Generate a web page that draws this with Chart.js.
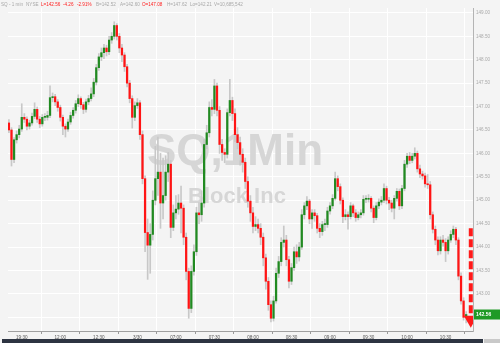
<!DOCTYPE html>
<html>
<head>
<meta charset="utf-8">
<script src="https://cdn.jsdelivr.net/npm/chart.js"></script>
<style>
  html, body { margin: 0; padding: 0; background: #f4f4f4; }
  #wrap { position: relative; width: 500px; height: 343px; overflow: hidden; }
  #scroll { position: absolute; left: 2px; top: 339px; width: 481px; height: 4px; background: #2d3441; }
  #scrollEnd { position: absolute; left: 484px; top: 339px; width: 16px; height: 4px; background: #c9c9c9; }
</style>
</head>
<body>
<div id="wrap">
  <canvas id="chart" width="500" height="343"></canvas>
  <div id="scroll"></div><div id="scrollEnd"></div>
</div>
<script>
// SQ 1 min bars (one entry per bar)
const opens = [
  146.65,146.50,145.87,146.29,146.40,146.52,146.77,146.73,146.58,146.65,
  146.79,146.94,146.73,146.63,146.77,146.77,146.81,147.19,147.21,147.10,
  146.98,146.77,146.58,146.52,146.67,146.81,146.92,147.06,147.17,147.04,
  146.94,147.10,147.17,147.27,147.52,147.83,148.06,148.15,148.25,148.17,
  148.42,148.50,148.73,148.50,148.25,148.10,147.85,147.50,147.17,146.77,
  147.02,147.08,146.40,145.46,144.31,144.04,144.27,145.00,145.46,145.60,
  144.94,145.10,145.60,145.77,144.42,144.73,144.81,144.94,144.83,144.21,
  143.48,142.69,143.48,143.90,144.73,144.69,144.94,146.19,146.44,146.98,
  146.94,147.44,146.92,146.19,146.02,145.98,146.87,147.13,146.85,146.40,
  146.23,145.98,145.81,145.40,144.98,144.73,144.44,144.48,144.40,144.21,
  143.77,143.27,142.77,142.48,142.85,143.44,143.69,144.10,144.15,143.73,
  143.27,143.56,143.90,143.79,144.00,144.69,144.88,144.98,144.60,144.73,
  144.67,144.40,144.33,144.48,144.48,144.77,144.88,145.04,145.46,145.29,
  145.00,144.65,144.69,144.65,144.88,144.73,144.63,144.69,144.73,145.02,
  145.02,145.04,144.83,144.63,144.88,144.96,145.00,145.25,145.00,144.94,
  144.83,145.04,145.19,144.88,145.25,145.77,145.94,145.85,145.94,146.00,
  145.67,145.56,145.52,145.35,145.33,144.69,144.38,144.15,143.92,144.15,
  144.10,143.92,144.15,144.27,144.38,144.15,143.38,142.85,142.50
];
const closes = [
  146.50,145.87,146.29,146.40,146.52,146.77,146.73,146.58,146.65,146.79,
  146.94,146.73,146.63,146.77,146.77,146.81,147.19,147.21,147.10,146.98,
  146.77,146.58,146.52,146.67,146.81,146.92,147.06,147.17,147.04,146.94,
  147.10,147.17,147.27,147.52,147.83,148.06,148.15,148.25,148.17,148.42,
  148.50,148.73,148.50,148.25,148.10,147.85,147.50,147.17,146.77,147.02,
  147.08,146.40,145.46,144.31,144.04,144.27,145.00,145.46,145.60,144.94,
  145.10,145.60,145.77,144.42,144.73,144.81,144.94,144.83,144.21,143.48,
  142.69,143.48,143.90,144.73,144.69,144.94,146.19,146.44,146.98,146.94,
  147.44,146.92,146.19,146.02,145.98,146.87,147.13,146.85,146.40,146.23,
  145.98,145.81,145.40,144.98,144.73,144.44,144.48,144.40,144.21,143.77,
  143.27,142.77,142.48,142.85,143.44,143.69,144.10,144.15,143.73,143.27,
  143.56,143.90,143.79,144.00,144.69,144.88,144.98,144.60,144.73,144.67,
  144.40,144.33,144.48,144.48,144.77,144.88,145.04,145.46,145.29,145.00,
  144.65,144.69,144.65,144.88,144.73,144.63,144.69,144.73,145.02,145.02,
  145.04,144.83,144.63,144.88,144.96,145.00,145.25,145.00,144.94,144.83,
  145.04,145.19,144.88,145.25,145.77,145.94,145.85,145.94,146.00,145.67,
  145.56,145.52,145.35,145.33,144.69,144.38,144.15,143.92,144.15,144.10,
  143.92,144.15,144.27,144.38,144.15,143.38,142.85,142.50,142.56
];
const highs = [
  146.72,146.55,146.34,146.48,146.60,147.06,146.85,146.78,146.71,146.86,
  147.08,146.99,146.79,146.83,146.85,146.90,147.44,147.29,147.26,147.15,
  147.03,146.82,146.63,146.73,146.88,146.98,147.13,147.25,147.21,147.09,
  147.16,147.24,147.40,147.60,147.90,148.13,148.25,148.33,148.31,148.50,
  148.58,148.81,148.77,148.56,148.33,148.15,147.90,147.56,147.23,147.10,
  147.17,147.13,146.48,145.52,144.60,144.50,145.20,146.15,146.35,146.00,
  145.90,145.95,146.02,145.85,144.90,145.10,145.12,145.30,144.90,144.30,
  143.55,143.60,144.05,144.85,144.95,145.20,146.30,146.60,147.10,147.15,
  147.58,147.50,147.00,146.30,146.10,146.95,147.58,147.20,146.95,146.55,
  146.35,146.10,145.90,145.50,145.10,144.85,144.65,144.60,144.50,144.30,
  143.85,143.35,142.85,142.95,143.55,143.80,144.20,144.45,144.25,143.80,
  143.65,144.00,144.05,144.10,144.80,144.95,145.08,145.02,144.80,144.80,
  144.72,144.50,144.55,144.60,144.85,144.95,145.12,145.60,145.52,145.35,
  145.05,144.80,144.75,144.95,144.92,144.80,144.75,144.80,145.10,145.10,
  145.12,145.08,144.88,144.95,145.03,145.08,145.35,145.30,145.06,145.00,
  145.10,145.25,145.24,145.32,145.85,146.00,146.02,146.00,146.12,146.05,
  145.75,145.62,145.58,145.55,145.40,144.75,144.45,144.22,144.22,144.25,
  144.18,144.22,144.35,144.45,144.42,144.20,143.45,142.92,142.62
];
const lows = [
  146.44,145.73,145.80,146.22,146.33,146.47,146.66,146.50,146.52,146.60,
  146.74,146.66,146.55,146.58,146.70,146.71,146.76,147.10,147.02,146.90,
  146.69,146.40,146.35,146.47,146.62,146.75,146.86,147.00,146.96,146.85,
  146.88,147.04,147.12,147.21,147.46,147.77,147.98,148.02,148.08,148.11,
  148.35,148.44,148.42,148.15,147.96,147.75,147.42,147.08,146.54,146.70,
  146.96,146.30,145.35,143.90,143.31,143.44,144.15,144.90,145.10,144.40,
  144.60,145.00,145.40,144.20,144.35,144.60,144.70,144.30,144.05,143.30,
  142.48,142.60,143.40,143.82,144.50,144.55,144.85,146.10,146.35,146.80,
  146.85,146.80,146.00,145.85,145.80,145.90,146.80,146.70,146.25,146.10,
  145.75,145.60,145.25,144.85,144.55,144.30,144.35,144.30,144.05,143.60,
  143.10,142.65,142.40,142.42,142.80,143.35,143.60,144.00,143.60,143.13,
  143.20,143.50,143.65,143.70,143.95,144.60,144.80,144.50,144.40,144.55,
  144.30,144.20,144.25,144.35,144.42,144.70,144.82,145.00,145.20,144.92,
  144.52,144.58,144.38,144.60,144.65,144.55,144.58,144.62,144.68,144.95,
  144.96,144.75,144.52,144.58,144.82,144.90,144.95,144.92,144.80,144.75,
  144.60,144.98,144.80,144.82,145.20,145.70,145.78,145.80,145.88,145.60,
  145.48,145.45,145.28,145.25,144.60,144.30,144.05,143.83,143.85,144.02,
  143.69,143.85,144.10,144.20,144.05,143.30,142.78,142.44,142.38
];

const timeTicks = [5, 20, 35, 50, 65, 80, 95, 110, 125, 140, 155, 170];
const timeLabels = ["19:30", "12:00", "12:30", "3/30", "07:00", "07:30", "08:00", "08:30", "09:00", "09:30", "10:00", "10:30"];
const priceTicks = [142.5, 143.0, 143.5, 144.0, 144.5, 145.0, 145.5, 146.0, 146.5, 147.0, 147.5, 148.0, 148.5, 149.0];

const arrowFrom = 144.40;
const arrowTo = 142.45;
const arrowBar = 179.8;

const headerParts = [
  ["SQ - 1 min", "#a8a8a8"], ["NYSE", "#a8a8a8"], ["L=142.56", "#ff2020"], ["-4.26", "#ff2020"],
  ["-2.91%", "#ff2020"], ["B=142.52", "#a8a8a8"], ["A=142.60", "#a8a8a8"], ["O=147.08", "#ff2020"],
  ["H=147.62", "#a8a8a8"], ["Lo=142.21", "#a8a8a8"], ["V=10,685,542", "#a8a8a8"]
];
const headerX = [1, 26, 41, 63, 77, 96, 120, 142, 167, 190, 214];

const UP = "#218a21", DOWN = "#ff1414", WICK = "#c8c8c8";
const FONT = "'Liberation Sans', Arial, sans-serif";

const wickData = highs.map((h, k) => ({ x: k, y: [lows[k], h] }));
const bodyData = opens.map((o, k) => ({ x: k, y: [o, closes[k]] }));
const bodyColors = opens.map((o, k) => closes[k] >= o ? UP : DOWN);

const decorations = {
  id: "decorations",
  beforeDatasetsDraw(chart) {
    const { ctx } = chart;
    ctx.save();
    ctx.fillStyle = "#d6d6d6";
    ctx.textAlign = "center";
    ctx.textBaseline = "middle";
    ctx.font = "bold 44px " + FONT;
    ctx.fillText("SQ,1Min", 235, 153);
    ctx.font = "bold 22px " + FONT;
    ctx.fillText("Block Inc", 237, 197);
    ctx.restore();
  },
  afterDraw(chart) {
    const { ctx } = chart;
    const y = chart.scales.y;
    ctx.save();
    ctx.textBaseline = "middle";
    ctx.font = "4.6px " + FONT;
    headerParts.forEach(([t, c], i) => {
      ctx.fillStyle = c;
      ctx.fillText(t, headerX[i], 5);
    });
    const last = closes[closes.length - 1];
    const py = y.getPixelForValue(last);
    ctx.fillStyle = "#1f9a26";
    ctx.fillRect(474, py - 5, 26, 10);
    ctx.fillStyle = "#ffffff";
    ctx.font = "bold 5px " + FONT;
    ctx.fillText(last.toFixed(2), 476, py);
    ctx.restore();
  }
};

new Chart(document.getElementById("chart"), {
  type: "bar",
  data: {
    datasets: [
      {
        type: "line",
        data: [{ x: arrowBar, y: arrowFrom }, { x: arrowBar, y: arrowTo }],
        borderColor: "#ff1a1a",
        borderWidth: 4,
        borderDash: [8, 3],
        pointRadius: [0, 8],
        pointStyle: "triangle",
        rotation: 180,
        pointBackgroundColor: "#ff1a1a",
        pointBorderWidth: 0,
        order: -1
      },
      {
        data: bodyData,
        backgroundColor: bodyColors,
        barThickness: 1.6,
        minBarLength: 1,
        grouped: false,
        order: 0
      },
      {
        data: wickData,
        backgroundColor: WICK,
        barThickness: 1,
        grouped: false,
        order: 1
      }
    ]
  },
  options: {
    responsive: false,
    animation: false,
    layout: { padding: 0 },
    plugins: { legend: { display: false }, tooltip: { enabled: false } },
    scales: {
      x: {
        type: "linear",
        offset: false,
        min: -0.36,
        max: 180.66,
        afterBuildTicks: (s) => { s.ticks = timeTicks.map(v => ({ value: v })); },
        afterFit: (s) => { s.height = 12; },
        ticks: {
          autoSkip: false,
          maxRotation: 0,
          padding: 1,
          color: "#555",
          font: { size: 4.6, family: FONT },
          callback: (v) => timeLabels[timeTicks.indexOf(v)]
        },
        grid: { color: "#ffffff", lineWidth: 1, tickLength: 3, tickColor: "#999" },
        border: { color: "#a0a0a0" }
      },
      y: {
        position: "right",
        min: 142.208,
        max: 149.104,
        afterBuildTicks: (s) => { s.ticks = priceTicks.map(v => ({ value: v })); },
        afterFit: (s) => { s.width = 27; },
        ticks: {
          padding: 3,
          color: "#aaaaaa",
          font: { size: 4.6, family: FONT },
          callback: (v) => v.toFixed(2)
        },
        grid: { color: "#ffffff", lineWidth: 1, drawTicks: false },
        border: { color: "#b4b4b4" }
      }
    }
  },
  plugins: [decorations]
});
</script>
</body>
</html>
